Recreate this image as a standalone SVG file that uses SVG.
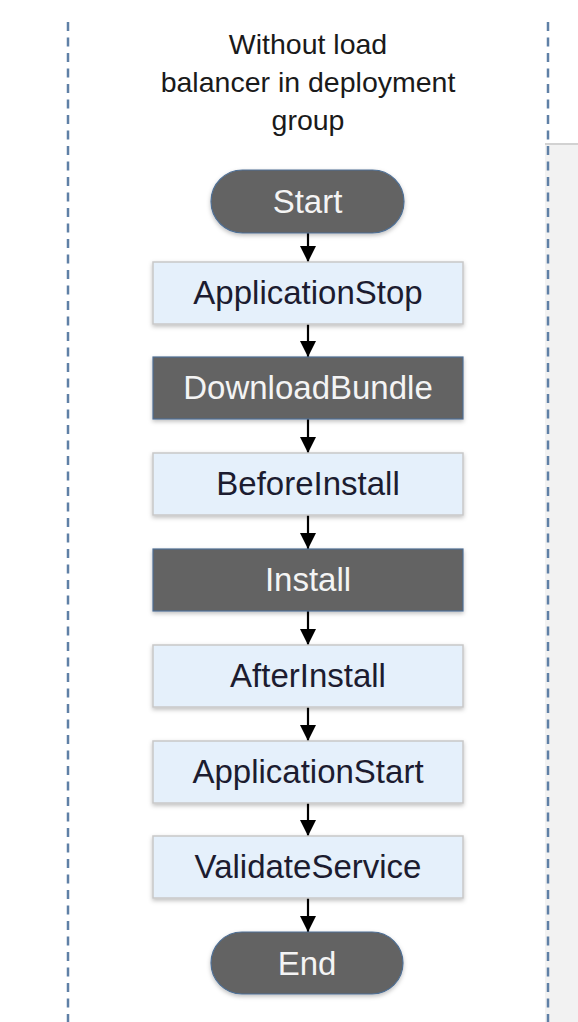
<svg xmlns="http://www.w3.org/2000/svg" width="578" height="1022" viewBox="0 0 578 1022">
<style>
.t{font-family:"Liberation Sans",Arial,sans-serif;text-anchor:middle}
.title{font-size:28.5px;fill:#1a1a1a}
.lbl{font-size:33px}
.light rect{fill:#e5f0fb;stroke:#c8c8c8;stroke-width:1.5}
.light text{fill:#1c1c30}
.dark rect{fill:#636363;stroke:#4f6f94;stroke-width:1.2}
.dark text{fill:#f4f4f4}
.dash{stroke:#5f80a6;stroke-width:2.5;stroke-dasharray:9 6.5;fill:none}
.conn line{stroke:#000;stroke-width:2.2}
</style>
<defs>
<filter id="sh" x="-10%" y="-20%" width="120%" height="150%">
<feDropShadow dx="0" dy="2" stdDeviation="2" flood-color="#000" flood-opacity="0.25"/>
</filter>
<marker id="ah" viewBox="0 0 10 10" refX="10" refY="5" markerUnits="userSpaceOnUse" markerWidth="16" markerHeight="18" orient="auto">
<path d="M0,0 L10,5 L0,10 z" fill="#000"/>
</marker>
</defs>
<rect x="0" y="0" width="578" height="1022" fill="#fff"/>
<g id="panel">
<rect x="545" y="143" width="40" height="890" fill="#f2f2f2"/>
<line x1="545" y1="144" x2="578" y2="144" stroke="#d2d2d2" stroke-width="2"/>
</g>
<g id="lanes">
<line class="dash" x1="68" y1="22" x2="68" y2="1022"/>
<line class="dash" x1="548" y1="22" x2="548" y2="1022"/>
</g>
<g id="title">
<text class="t title" x="308" y="54">Without load</text>
<text class="t title" x="308" y="92">balancer in deployment</text>
<text class="t title" x="308" y="130">group</text>
</g>
<g class="conn" id="connectors">
<line x1="308" y1="233" x2="308" y2="262" marker-end="url(#ah)"/>
<line x1="308" y1="324" x2="308" y2="357" marker-end="url(#ah)"/>
<line x1="308" y1="419" x2="308" y2="453" marker-end="url(#ah)"/>
<line x1="308" y1="515" x2="308" y2="549" marker-end="url(#ah)"/>
<line x1="308" y1="611" x2="308" y2="645" marker-end="url(#ah)"/>
<line x1="308" y1="707" x2="308" y2="741" marker-end="url(#ah)"/>
<line x1="308" y1="803" x2="308" y2="836" marker-end="url(#ah)"/>
<line x1="308" y1="898" x2="308" y2="932" marker-end="url(#ah)"/>
</g>
<g id="start" class="dark">
<rect x="211" y="170" width="193" height="63" rx="31.5" filter="url(#sh)"/>
<text class="t lbl" x="307.5" y="213">Start</text>
</g>
<g id="applicationstop" class="light">
<rect x="153" y="262" width="310" height="62" filter="url(#sh)"/>
<text class="t lbl" x="308" y="304">ApplicationStop</text>
</g>
<g id="downloadbundle" class="dark">
<rect x="153" y="357" width="310" height="62" filter="url(#sh)"/>
<text class="t lbl" x="308" y="399">DownloadBundle</text>
</g>
<g id="beforeinstall" class="light">
<rect x="153" y="453" width="310" height="62" filter="url(#sh)"/>
<text class="t lbl" x="308" y="495">BeforeInstall</text>
</g>
<g id="install" class="dark">
<rect x="153" y="549" width="310" height="62" filter="url(#sh)"/>
<text class="t lbl" x="308" y="591">Install</text>
</g>
<g id="afterinstall" class="light">
<rect x="153" y="645" width="310" height="62" filter="url(#sh)"/>
<text class="t lbl" x="308" y="687">AfterInstall</text>
</g>
<g id="applicationstart" class="light">
<rect x="153" y="741" width="310" height="62" filter="url(#sh)"/>
<text class="t lbl" x="308" y="783">ApplicationStart</text>
</g>
<g id="validateservice" class="light">
<rect x="153" y="836" width="310" height="62" filter="url(#sh)"/>
<text class="t lbl" x="308" y="878">ValidateService</text>
</g>
<g id="end" class="dark">
<rect x="211" y="932" width="192" height="62" rx="31" filter="url(#sh)"/>
<text class="t lbl" x="307" y="975">End</text>
</g>
</svg>
